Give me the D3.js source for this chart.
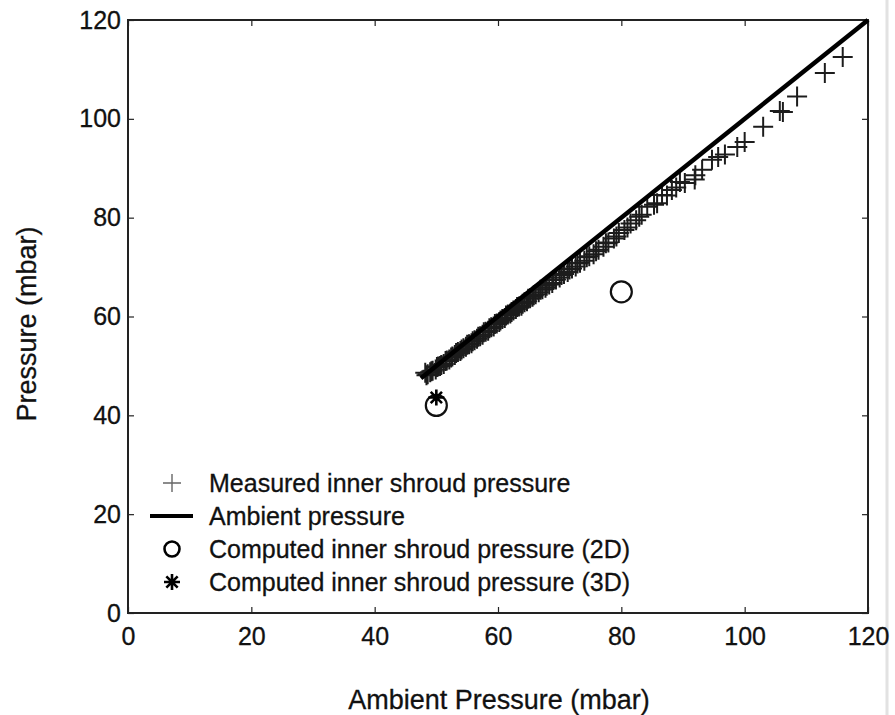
<!DOCTYPE html>
<html>
<head>
<meta charset="utf-8">
<script src="https://cdn.jsdelivr.net/npm/d3@7"></script>
<style>
  body { margin: 0; background: #fff; }
  svg { display: block; font-family: "Liberation Sans", Arial, sans-serif; }
</style>
</head>
<body>
<svg id="chart" width="895" height="715"></svg>
<script>
// measured inner shroud pressure (x = ambient, y = measured)
var measuredX = [48.2, 48.6, 49.0, 49.4, 49.9, 50.3, 50.8, 51.2, 51.7, 52.1, 52.6, 53.0,
  53.5, 53.9, 54.4, 54.8, 55.3, 55.7, 56.2, 56.6, 57.1, 57.5, 58.0, 58.4, 58.9, 59.3,
  59.8, 60.2, 60.7, 61.1, 61.6, 62.0, 62.5, 62.9, 63.4, 63.8, 64.3, 64.7, 65.2, 65.6,
  66.1, 66.6, 67.2, 67.7, 68.3, 68.8, 69.4, 70.0, 70.7, 71.3, 72.0, 72.6, 73.3, 74.0,
  74.8, 75.5, 76.3, 77.1, 77.9, 78.8, 79.6, 80.5, 81.5, 82.4, 83.3, 84.2, 85.3, 86.6,
  87.4, 88.2, 89.5, 90.3, 91.9, 93.1, 94.7, 95.7, 96.8, 98.8, 100.0, 103.0, 105.7,
  106.2, 108.5, 113.0, 115.9,
  // second pass of the same campaign (overlaps the first)
  48.4, 49.2, 50.1, 50.6, 51.5, 52.4, 53.2, 54.1, 55.0, 55.9, 56.8, 57.7, 58.6, 59.5,
  60.4, 61.3, 62.2, 63.1, 64.0, 64.9, 65.8, 66.9, 67.9, 69.0, 70.3, 71.6, 72.9, 74.4,
  75.9, 77.5, 79.2, 81.0, 82.9, 85.8, 88.9, 92.0];
var measuredY = [48.6, 48.3, 48.7, 49.0, 49.3, 49.9, 50.2, 50.4, 51.1, 51.3, 51.9, 52.2,
  52.8, 53.0, 53.6, 53.9, 54.4, 54.6, 55.2, 55.5, 56.0, 56.3, 56.9, 57.1, 57.8, 58.0,
  58.6, 58.9, 59.5, 59.7, 60.4, 60.6, 61.2, 61.5, 62.0, 62.2, 62.9, 63.1, 63.7, 64.0,
  64.5, 64.9, 65.5, 65.8, 66.5, 66.8, 67.5, 67.9, 68.6, 69.0, 69.7, 70.1, 70.9, 71.3,
  72.2, 72.6, 73.5, 74.1, 75.0, 75.8, 76.9, 77.5, 78.8, 79.5, 80.6, 82.2, 82.6, 84.6,
  84.5, 85.6, 87.2, 87.0, 87.7, 89.7, 91.7, 92.3, 92.8, 94.3, 95.3, 98.4, 101.6,
  101.4, 104.5, 109.3, 112.5,
  48.1, 48.9, 49.8, 50.0, 51.0, 51.7, 52.6, 53.3, 54.3, 55.0, 55.9, 56.8, 57.6, 58.5,
  59.2, 60.2, 60.9, 61.9, 62.6, 63.6, 64.3, 65.4, 66.2, 67.4, 68.4, 69.5, 70.7, 72.0,
  73.2, 74.8, 76.2, 78.0, 80.2, 82.9, 86.1, 88.6];

// ambient pressure line (y = x)
var ambientX = [47.5, 120];
var ambientY = [47.5, 120];

// computed points
var computed2D = [[50, 42], [80, 65]];
var computed3D = [[50, 43.6]];

var ticks = [0, 20, 40, 60, 80, 100, 120];
var legendLabels = ["Measured inner shroud pressure", "Ambient pressure",
  "Computed inner shroud pressure (2D)", "Computed inner shroud pressure (3D)"];

var svg = d3.select("#chart");
var plotL = 128, plotR = 868, plotT = 20, plotB = 613;

var x = d3.scaleLinear().domain([0, 120]).range([plotL, plotR]);
var y = d3.scaleLinear().domain([0, 120]).range([plotB, plotT]);

// soft blur, the original is a scanned figure
svg.append("defs").append("filter").attr("id", "soft")
   .attr("x", "-5%").attr("y", "-5%").attr("width", "110%").attr("height", "110%")
   .append("feGaussianBlur").attr("stdDeviation", 0.7);

// faint scan border on the right
svg.append("line").attr("x1", 887).attr("x2", 887).attr("y1", 0).attr("y2", 715)
   .attr("stroke", "#e2e2e2").attr("stroke-width", 3);

// axes with inward ticks
var axisStyle = function(g) {
  g.select(".domain").remove();
  g.selectAll(".tick line").attr("stroke", "#222").attr("stroke-width", 1.2);
  g.selectAll(".tick text").attr("fill", "#111").attr("font-size", 25)
   .attr("stroke", "#111").attr("stroke-width", 0.3);
};

svg.append("g").attr("transform", "translate(0," + plotB + ")")
   .call(d3.axisBottom(x).tickValues(ticks).tickSize(-6).tickPadding(14).tickFormat(d3.format("d")))
   .call(axisStyle);
svg.append("g").attr("transform", "translate(0," + plotT + ")")
   .call(d3.axisTop(x).tickValues(ticks).tickSize(-6).tickFormat(""))
   .call(axisStyle);
svg.append("g").attr("transform", "translate(" + plotL + ",0)")
   .call(d3.axisLeft(y).tickValues(ticks).tickSize(-6).tickPadding(7).tickFormat(d3.format("d")))
   .call(axisStyle);
svg.append("g").attr("transform", "translate(" + plotR + ",0)")
   .call(d3.axisRight(y).tickValues(ticks).tickSize(-6).tickFormat(""))
   .call(axisStyle);

svg.append("rect").attr("x", plotL).attr("y", plotT)
   .attr("width", plotR - plotL).attr("height", plotB - plotT)
   .attr("fill", "none").attr("stroke", "#222").attr("stroke-width", 2);

// axis titles
svg.append("text").attr("x", 499).attr("y", 709).attr("text-anchor", "middle")
   .attr("font-size", 27).attr("fill", "#111").attr("stroke", "#111").attr("stroke-width", 0.3)
   .text("Ambient Pressure (mbar)");
svg.append("text").attr("transform", "translate(36,324) rotate(-90)")
   .attr("text-anchor", "middle").attr("font-size", 27).attr("fill", "#111")
   .attr("stroke", "#111").attr("stroke-width", 0.3)
   .text("Pressure (mbar)");

// measured crosses
var plus = function(sel, cx, cy, h) {
  sel.append("path")
     .attr("d", "M" + (cx - h) + "," + cy + "H" + (cx + h) + "M" + cx + "," + (cy - h) + "V" + (cy + h));
};
var crosses = svg.append("g").attr("stroke", "#1e1e1e").attr("stroke-width", 2)
   .attr("fill", "none").attr("filter", "url(#soft)");
measuredX.forEach(function(d, i) {
  plus(crosses, x(d), y(measuredY[i]), 10);
});

// ambient line
svg.append("line")
   .attr("x1", x(ambientX[0])).attr("y1", y(ambientY[0]))
   .attr("x2", x(ambientX[1])).attr("y2", y(ambientY[1]))
   .attr("stroke", "#000").attr("stroke-width", 4.5);

// computed 2D circles
svg.append("g").selectAll("circle").data(computed2D).enter().append("circle")
   .attr("cx", function(d) { return x(d[0]); })
   .attr("cy", function(d) { return y(d[1]); })
   .attr("r", 10.5).attr("fill", "none").attr("stroke", "#111").attr("stroke-width", 2.2);

// computed 3D asterisks
var star = function(sel, cx, cy, r) {
  var p = "";
  for (var k = 0; k < 4; k++) {
    var a = k * Math.PI / 4;
    p += "M" + (cx - r * Math.cos(a)) + "," + (cy - r * Math.sin(a)) +
         "L" + (cx + r * Math.cos(a)) + "," + (cy + r * Math.sin(a));
  }
  sel.append("path").attr("d", p);
};
var stars = svg.append("g").attr("stroke", "#000").attr("stroke-width", 2.6).attr("fill", "none");
computed3D.forEach(function(d) { star(stars, x(d[0]), y(d[1]), 8); });

// legend
var leg = svg.append("g");
var rowY = [483, 516, 549, 582];
plus(leg.append("g").attr("stroke", "#666").attr("stroke-width", 1.4), 172, rowY[0], 9);
leg.append("line").attr("x1", 150).attr("x2", 193).attr("y1", rowY[1]).attr("y2", rowY[1])
   .attr("stroke", "#000").attr("stroke-width", 4);
leg.append("circle").attr("cx", 172).attr("cy", rowY[2]).attr("r", 7.5)
   .attr("fill", "none").attr("stroke", "#000").attr("stroke-width", 2.6);
star(leg.append("g").attr("stroke", "#000").attr("stroke-width", 2.6), 172, rowY[3], 8);
leg.selectAll("text").data(legendLabels).enter().append("text")
   .attr("x", 209).attr("y", function(d, i) { return rowY[i] + 9; })
   .attr("font-size", 25).attr("fill", "#111").attr("stroke", "#111").attr("stroke-width", 0.3)
   .text(function(d) { return d; });
</script>
</body>
</html>
